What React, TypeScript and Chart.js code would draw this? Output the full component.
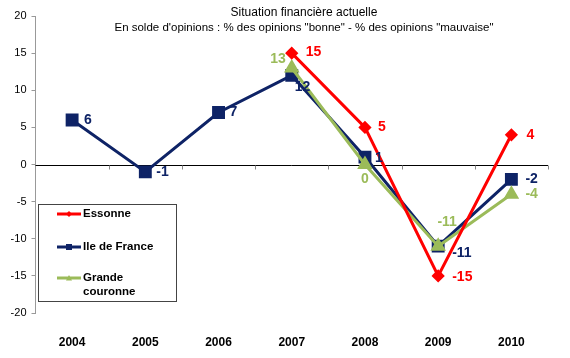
import React, { useEffect, useRef } from 'react';
import { Chart, registerables } from 'chart.js';

Chart.register(...registerables);

const years = ['2004', '2005', '2006', '2007', '2008', '2009', '2010'];
const essonne = [null, null, null, 15, 5, -15, 4];
const ileDeFrance = [6, -1, 7, 12, 1, -11, -2];
const grandeCouronne = [null, null, null, 13, 0, -11, -4];
const seriesNames = ['Essonne', 'Ile de France', 'Grande\ncouronne'];
const titleLines = [
  'Situation financière actuelle',
  'En solde d\'opinions : % des opinions "bonne" - % des opinions "mauvaise"',
];
const yMin = -20;
const yMax = 20;
const yStep = 5;

const RED = '#FF0000';
const NAVY = '#0E2366';
const GREEN = '#9BBB59';

// label placement offsets [dx, dy, align] per series/point
const labelOffsets: Record<number, ([number, number, CanvasTextAlign] | null)[]> = {
  0: [null, null, null, [14, -1, 'left'], [13, 0, 'left'], [14, 1, 'left'], [15, 0, 'left']],
  1: [[12, 0, 'left'], [11, 0, 'left'], [11, 0, 'left'], [3, 12, 'left'], [10, 1, 'left'], [14, 7, 'left'], [14, 0, 'left']],
  2: [null, null, null, [-6, -9, 'right'], [0, 15, 'center'], [9, -24, 'center'], [14, 0, 'left']],
};

const FONT = '"Liberation Sans", Arial, sans-serif';

function drawMarker(ctx: CanvasRenderingContext2D, style: string, x: number, y: number, r: number, color: string) {
  ctx.fillStyle = color;
  ctx.beginPath();
  if (style === 'rectRot') {
    ctx.moveTo(x, y - r);
    ctx.lineTo(x + r, y);
    ctx.lineTo(x, y + r);
    ctx.lineTo(x - r, y);
  } else if (style === 'rect') {
    ctx.rect(x - r, y - r, 2 * r, 2 * r);
  } else {
    ctx.moveTo(x, y - r);
    ctx.lineTo(x + r, y + r * 0.8);
    ctx.lineTo(x - r, y + r * 0.8);
  }
  ctx.closePath();
  ctx.fill();
}

const annotPlugin = {
  id: 'annot',
  beforeDatasetsDraw(chart: any) {
    const { ctx, chartArea, scales } = chart;
    const y0 = Math.round(scales.y.getPixelForValue(0)) + 0.5;
    ctx.save();
    ctx.strokeStyle = '#000';
    ctx.lineWidth = 1;
    ctx.beginPath();
    ctx.moveTo(chartArea.left, y0);
    ctx.lineTo(chartArea.right, y0);
    ctx.stroke();
    ctx.strokeStyle = '#888';
    const n = years.length;
    ctx.beginPath();
    for (let i = 1; i <= n; i++) {
      const xb = Math.round(chartArea.left + (i * (chartArea.right - chartArea.left)) / n) + 0.5;
      ctx.moveTo(xb, y0);
      ctx.lineTo(xb, y0 + 4);
    }
    ctx.stroke();
    ctx.restore();
  },
  afterDatasetsDraw(chart: any) {
    const { ctx } = chart;
    ctx.save();
    // data labels
    ctx.font = `bold 14px ${FONT}`;
    ctx.textBaseline = 'middle';
    chart.data.datasets.forEach((ds: any, di: number) => {
      const meta = chart.getDatasetMeta(di);
      ds.data.forEach((v: number | null, i: number) => {
        const off = labelOffsets[di][i];
        if (v === null || !off) return;
        const pt = meta.data[i];
        ctx.fillStyle = ds.borderColor;
        ctx.textAlign = off[2];
        ctx.fillText(String(v), pt.x + off[0], pt.y + off[1]);
      });
    });
    // legend
    const bx = 38.5, by = 204.5, bw = 138, bh = 97;
    ctx.fillStyle = '#fff';
    ctx.fillRect(bx, by, bw, bh);
    ctx.strokeStyle = '#444';
    ctx.lineWidth = 1;
    ctx.strokeRect(bx, by, bw, bh);
    const rows = [214, 247, 278];
    ctx.font = `bold 11.5px ${FONT}`;
    ctx.textAlign = 'left';
    chart.data.datasets.forEach((ds: any, di: number) => {
      const yy = rows[di];
      ctx.strokeStyle = ds.borderColor;
      ctx.lineWidth = 3;
      ctx.beginPath();
      ctx.moveTo(57, yy);
      ctx.lineTo(81, yy);
      ctx.stroke();
      drawMarker(ctx, ds.pointStyle, 69, yy, 3, ds.borderColor);
      ctx.fillStyle = '#000';
      const lines = String(ds.label).split('\n');
      lines.forEach((t: string, k: number) => ctx.fillText(t, 83, yy + k * 14));
    });
    ctx.restore();
  },
  afterDraw(chart: any) {
    const { ctx } = chart;
    ctx.save();
    ctx.fillStyle = '#000';
    ctx.textAlign = 'center';
    ctx.textBaseline = 'middle';
    ctx.font = `12px ${FONT}`;
    ctx.fillText(titleLines[0], 304, 13);
    ctx.font = `11.5px ${FONT}`;
    ctx.fillText(titleLines[1], 304, 28);
    ctx.restore();
  },
};

export default function App() {
  const ref = useRef<HTMLCanvasElement | null>(null);
  useEffect(() => {
    if (!ref.current) return;
    const chart = new Chart(ref.current, {
      type: 'line',
      data: {
        labels: years,
        datasets: [
          {
            label: seriesNames[0],
            data: essonne,
            borderColor: RED,
            backgroundColor: RED,
            pointStyle: 'rectRot',
            pointRadius: 4.5,
            borderWidth: 3,
            order: 0,
          },
          {
            label: seriesNames[1],
            data: ileDeFrance,
            borderColor: NAVY,
            backgroundColor: NAVY,
            pointStyle: 'rect',
            pointRadius: 7,
            borderWidth: 3,
            order: 2,
          },
          {
            label: seriesNames[2],
            data: grandeCouronne,
            borderColor: GREEN,
            backgroundColor: GREEN,
            pointStyle: 'triangle',
            pointRadius: 6,
            borderWidth: 3,
            order: 1,
          },
        ] as any,
      },
      options: {
        animation: false,
        responsive: false,
        maintainAspectRatio: false,
        spanGaps: false,
        layout: { padding: { left: 0, right: 22, top: 16, bottom: 0 } },
        plugins: { legend: { display: false }, tooltip: { enabled: false }, title: { display: false } },
        scales: {
          x: {
            offset: true,
            grid: { display: false, offset: true },
            border: { display: false },
            ticks: { color: '#000', font: { family: FONT, size: 12, weight: 'bold' }, padding: 14 },
            afterFit: (s: any) => { s.height = 45; },
          },
          y: {
            min: yMin,
            max: yMax,
            grid: { drawOnChartArea: false, drawTicks: true, tickLength: 4, color: '#999' },
            border: { display: true, color: '#999' },
            ticks: { stepSize: yStep, color: '#000', font: { family: FONT, size: 11 }, padding: 5 },
            afterFit: (s: any) => { s.width = 35.5; },
          },
        },
      } as any,
      plugins: [annotPlugin],
    });
    return () => chart.destroy();
  }, []);
  return (
    <div style={{ position: 'fixed', left: 0, top: 0, width: 570, height: 358, background: '#fff' }}>
      <canvas ref={ref} width={570} height={358} style={{ width: 570, height: 358 }} />
    </div>
  );
}
